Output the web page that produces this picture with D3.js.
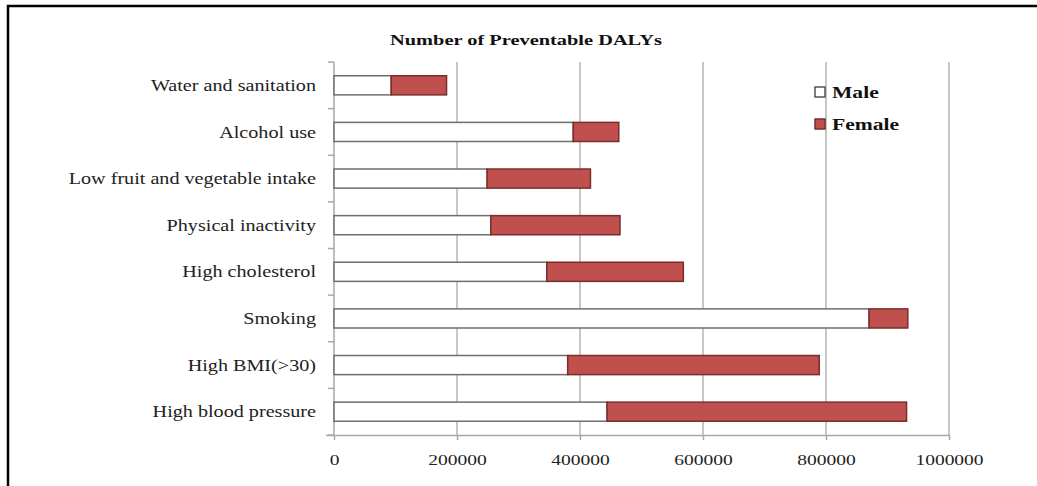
<!DOCTYPE html>
<html><head><meta charset="utf-8">
<script src="https://cdn.jsdelivr.net/npm/d3@7"></script>
<style>
body{margin:0;background:#fff;}
svg{display:block;font-family:"Liberation Serif","Times New Roman",serif;}
</style></head>
<body>
<svg id="chart" width="1037" height="486"></svg>
<script>
const categories = ["Water and sanitation","Alcohol use","Low fruit and vegetable intake","Physical inactivity","High cholesterol","Smoking","High BMI(>30)","High blood pressure"];
const maleValues = [93000, 389000, 249000, 255000, 346000, 870000, 380000, 444000];
const femaleValues = [90000, 74000, 168000, 210000, 222000, 63000, 409000, 487000];
const seriesNames = ["Male","Female"];
const xTicks = [0, 200000, 400000, 600000, 800000, 1000000];
const title = "Number of Preventable DALYs";

const svg = d3.select("#chart");
const m = {left:334, right:949, top:62, bottom:435};
const x = d3.scaleLinear().domain([0,1000000]).range([m.left, m.right]);
const y = d3.scaleBand().domain(categories).range([m.top, m.bottom]).paddingInner(0.59).paddingOuter(0.295);

// frame
svg.append("path").attr("d","M8,486 V6 H1037").attr("fill","none").attr("stroke","#000").attr("stroke-width",2.5);

// gridlines
svg.append("g").selectAll("line").data(xTicks.slice(1)).join("line")
  .attr("x1",d=>x(d)).attr("x2",d=>x(d)).attr("y1",m.top).attr("y2",m.bottom)
  .attr("stroke","#b4b4b4").attr("stroke-width",1.5);

// x axis
const xa = svg.append("g").attr("transform",`translate(0,${m.bottom})`)
  .call(d3.axisBottom(x).tickValues(xTicks).tickFormat(d3.format("d")).tickSize(5).tickPadding(14));
xa.select(".domain").attr("stroke","#a8a8a8").attr("stroke-width",1.5).attr("d",`M${m.left-8},0.5H${m.right}`);
xa.selectAll(".tick line").attr("stroke","#a8a8a8").attr("stroke-width",1.5);
xa.selectAll("text").attr("font-size",15).attr("fill","#222").attr("font-family","Liberation Serif")
  .attr("transform","scale(1.3,1)");

// y axis line and ticks at band boundaries
const step = (m.bottom-m.top)/categories.length;
const bounds = d3.range(categories.length+1).map(i=>m.top+i*step);
svg.append("line").attr("x1",m.left).attr("x2",m.left).attr("y1",m.top).attr("y2",m.bottom)
  .attr("stroke","#a8a8a8").attr("stroke-width",1.5);
svg.append("g").selectAll("line").data(bounds).join("line")
  .attr("x1",m.left-6).attr("x2",m.left).attr("y1",d=>d).attr("y2",d=>d)
  .attr("stroke","#a8a8a8").attr("stroke-width",1.5);

// category labels
svg.append("g").selectAll("text").data(categories).join("text")
  .attr("transform",d=>`translate(316,${y(d)+y.bandwidth()/2}) scale(1.26,1)`).attr("dy","0.35em")
  .attr("text-anchor","end").attr("font-size",16).attr("fill","#222").text(d=>d);

// bars
const rows = categories.map((c,i)=>({c, male:maleValues[i], female:femaleValues[i]}));
const g = svg.append("g");
g.selectAll("rect.male").data(rows).join("rect").attr("class","male")
  .attr("x",x(0)).attr("y",d=>y(d.c)).attr("height",y.bandwidth())
  .attr("width",d=>x(d.male)-x(0))
  .attr("fill","#fff").attr("stroke","#6e6e6e").attr("stroke-width",1.5);
g.selectAll("rect.female").data(rows).join("rect").attr("class","female")
  .attr("x",d=>x(d.male)).attr("y",d=>y(d.c)).attr("height",y.bandwidth())
  .attr("width",d=>x(d.male+d.female)-x(d.male))
  .attr("fill","#c0504d").attr("stroke","#7a2e2c").attr("stroke-width",1.5);

// title
svg.append("text").attr("transform","translate(526,45) scale(1.36,1)").attr("text-anchor","middle")
  .attr("font-size",15).attr("font-weight","bold").attr("fill","#111").text(title);

// legend
const legColors = ["#fff","#c0504d"], legStroke=["#555","#7a2e2c"];
const lg = svg.append("g").selectAll("g").data(seriesNames).join("g")
  .attr("transform",(d,i)=>`translate(815,${87+i*32})`);
lg.append("rect").attr("width",10).attr("height",10).attr("fill",(d,i)=>legColors[i]).attr("stroke",(d,i)=>legStroke[i]).attr("stroke-width",1.5);
lg.append("text").attr("transform","translate(17,5) scale(1.27,1)").attr("dy","0.38em").attr("font-size",17).attr("font-weight","bold").attr("fill","#111").text(d=>d);
</script>
</body></html>
